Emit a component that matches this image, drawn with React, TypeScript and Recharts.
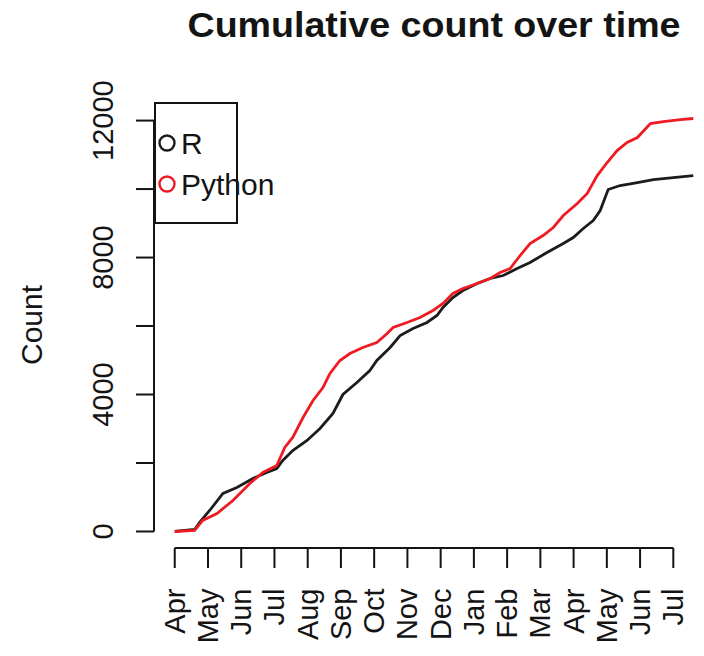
import { LineChart, Line, XAxis, YAxis, ReferenceLine, Legend } from "recharts"

const monthLabels = ["Apr", "May", "Jun", "Jul", "Aug", "Sep", "Oct", "Nov", "Dec", "Jan", "Feb", "Mar", "Apr", "May", "Jun", "Jul"]
const yTicks = [0, 2000, 4000, 6000, 8000, 10000, 12000]
const yLabeled = [0, 4000, 8000, 12000]
const seriesNames = ["R", "Python"]

// months since 1 April (first tick), cumulative counts
const rMonths = [0, 0.6, 0.75, 1.05, 1.45, 1.87, 2.35, 2.77, 3.07, 3.25, 3.55, 3.98, 4.37, 4.76, 5.06, 5.48, 5.87, 6.08, 6.48, 6.78, 7.17, 7.59, 7.89, 8.07, 8.37, 8.67, 9.1, 9.49, 9.88, 10.3, 10.69, 11.2, 11.69, 11.99, 12.29, 12.59, 12.8, 13.04, 13.4, 13.92, 14.4, 15.0, 15.6]
const rCounts = [0, 58, 263, 613, 1110, 1285, 1548, 1723, 1840, 2073, 2365, 2657, 3008, 3446, 4000, 4350, 4700, 4993, 5373, 5723, 5928, 6103, 6307, 6541, 6833, 7037, 7242, 7388, 7475, 7680, 7855, 8147, 8410, 8585, 8848, 9081, 9373, 9986, 10103, 10191, 10278, 10337, 10395]

const pyMonths = [0, 0.6, 0.84, 1.27, 1.75, 2.26, 2.65, 3.07, 3.31, 3.55, 3.86, 4.16, 4.46, 4.67, 4.97, 5.27, 5.66, 6.08, 6.39, 6.57, 6.99, 7.38, 7.77, 8.07, 8.37, 8.67, 9.1, 9.49, 9.79, 10.09, 10.39, 10.69, 11.08, 11.39, 11.69, 12.11, 12.41, 12.71, 13.01, 13.31, 13.61, 13.92, 14.31, 14.7, 15.21, 15.6]
const pyCounts = [0, 29, 321, 526, 905, 1402, 1723, 1927, 2453, 2745, 3329, 3825, 4205, 4614, 4993, 5198, 5373, 5519, 5782, 5957, 6103, 6249, 6453, 6658, 6950, 7096, 7242, 7388, 7563, 7680, 8059, 8410, 8643, 8877, 9227, 9578, 9870, 10395, 10775, 11125, 11359, 11505, 11914, 11972, 12030, 12060]

const FONT = "'Liberation Sans', Arial, sans-serif"
const INK = "#141414"

const rData = rMonths.map((m, i) => ({ m, v: rCounts[i] }))
const pyData = pyMonths.map((m, i) => ({ m, v: pyCounts[i] }))

// R-style 4% padding around the data range
const xMax = Math.max(...rMonths, ...pyMonths)
const yMax = Math.max(...rCounts, ...pyCounts)
const xDomain = [-0.04 * xMax, xMax * 1.04]
const yDomain = [-0.04 * yMax, yMax * 1.04]

function XTick(props: any) {
    const { x, y, payload } = props
    return (
        <text transform={`translate(${x + 10},${y + 18.5}) rotate(-90)`} textAnchor="end" fontSize={29} fontFamily={FONT} fill={INK}>
            {monthLabels[payload.value]}
        </text>
    )
}

function YTick(props: any) {
    const { x, y, payload } = props
    if (!yLabeled.includes(payload.value)) return null
    return (
        <text transform={`translate(${x - 21},${y}) rotate(-90)`} textAnchor="middle" fontSize={29} fontFamily={FONT} fill={INK}>
            {payload.value}
        </text>
    )
}

function LegendBox(props: any) {
    const items = [...(props.payload ?? [])].sort(
        (a: any, b: any) => seriesNames.indexOf(a.value) - seriesNames.indexOf(b.value)
    )
    return (
        <svg width={84} height={122} style={{ overflow: "visible", display: "block" }}>
            <rect x={1} y={1} width={82} height={120} fill="none" stroke={INK} strokeWidth={2} />
            {items.map((it: any, i: number) => (
                <g key={it.value}>
                    <circle cx={13} cy={41 + i * 41} r={7.5} fill="none" stroke={it.color} strokeWidth={2.4} />
                    <text x={27} y={41 + i * 41} dy="0.36em" fontSize={30} fontFamily={FONT} fill={INK}>
                        {it.value}
                    </text>
                </g>
            ))}
        </svg>
    )
}

export default function App() {
    return (
        <div style={{ position: "fixed", left: 0, top: 0, width: 704, height: 656, overflow: "hidden", background: "#fff" }}>
            <div style={{ position: "relative", width: 740, height: 656 }}>
                <LineChart width={740} height={656} margin={{ top: 102, right: 26, left: 0, bottom: 0 }}>
                    <XAxis
                        dataKey="m"
                        type="number"
                        domain={xDomain}
                        ticks={monthLabels.map((_, i) => i)}
                        interval={0}
                        height={108}
                        tickSize={20}
                        axisLine={false}
                        tickLine={{ stroke: INK, strokeWidth: 2 }}
                        tick={<XTick />}
                        allowDataOverflow
                    />
                    <YAxis
                        type="number"
                        domain={yDomain}
                        ticks={yTicks}
                        interval={0}
                        width={154}
                        tickSize={18}
                        axisLine={false}
                        tickLine={{ stroke: INK, strokeWidth: 2 }}
                        tick={<YTick />}
                        allowDataOverflow
                    />
                    <ReferenceLine
                        segment={[{ x: xDomain[0], y: 0 }, { x: xDomain[0], y: yTicks[yTicks.length - 1] }]}
                        stroke={INK}
                        strokeWidth={2}
                        ifOverflow="visible"
                    />
                    <ReferenceLine
                        segment={[{ x: 0, y: yDomain[0] }, { x: monthLabels.length - 1, y: yDomain[0] }]}
                        stroke={INK}
                        strokeWidth={2}
                        ifOverflow="visible"
                    />
                    <Line data={rData} dataKey="v" name="R" type="linear" stroke="#1c1c1c" strokeWidth={2.8} dot={false} isAnimationActive={false} />
                    <Line data={pyData} dataKey="v" name="Python" type="linear" stroke="#ee1c22" strokeWidth={2.8} dot={false} isAnimationActive={false} />
                    <Legend
                        layout="vertical"
                        align="center"
                        verticalAlign="middle"
                        content={<LegendBox />}
                        wrapperStyle={{ position: "absolute", left: 154, top: 102, width: 84, height: 122 }}
                    />
                </LineChart>
                <svg width={740} height={656} style={{ position: "absolute", left: 0, top: 0, pointerEvents: "none" }}>
                    <text x={434} y={37} textAnchor="middle" fontSize={35} fontWeight="bold" fontFamily={FONT} fill={INK} textLength={493} lengthAdjust="spacingAndGlyphs">
                        Cumulative count over time
                    </text>
                    <text transform="translate(42,325) rotate(-90)" textAnchor="middle" fontSize={30} fontFamily={FONT} fill={INK}>
                        Count
                    </text>
                </svg>
            </div>
        </div>
    )
}
